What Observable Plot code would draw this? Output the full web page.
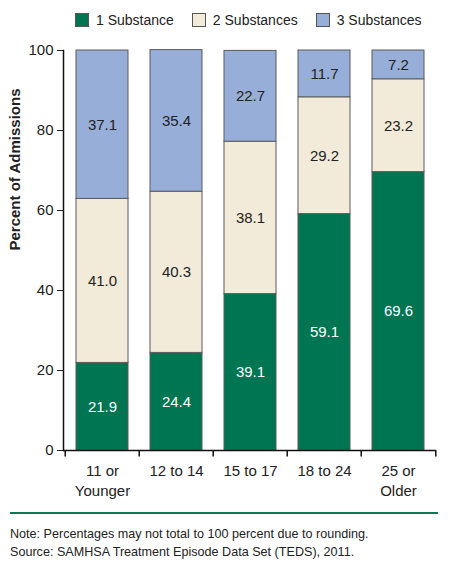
<!DOCTYPE html>
<html>
<head>
<meta charset="utf-8">
<script src="https://cdn.jsdelivr.net/npm/d3@7"></script>
<script src="https://cdn.jsdelivr.net/npm/@observablehq/plot@0.6"></script>
<style>
  body { margin: 0; background: #fff; font-family: "Liberation Sans", Arial, sans-serif; }
  #wrap { position: relative; width: 450px; height: 567px; }
  #legend { position: absolute; top: 11px; left: 75px; display: flex; white-space: nowrap; font-size: 14px; color: #222; line-height: 18px; }
  #legend .item { display: flex; align-items: center; margin-right: 18px; }
  #legend .sw { width: 12px; height: 12px; border: 1px solid #555; margin-right: 7px; }
  #chart { position: absolute; top: 40px; left: 0; }
  #rule { position: absolute; top: 512px; left: 10px; width: 428px; height: 2px; background: #0b7a55; }
  #notes { position: absolute; top: 525px; left: 10px; font-size: 12.6px; color: #222; line-height: 18px; }
</style>
</head>
<body>
<div id="wrap">
  <div id="legend"></div>
  <div id="chart"></div>
  <div id="rule"></div>
  <div id="notes">
    <div>Note: Percentages may not total to 100 percent due to rounding.</div>
    <div>Source: SAMHSA Treatment Episode Data Set (TEDS), 2011.</div>
  </div>
</div>
<script>
const ages = ["11 or\nYounger", "12 to 14", "15 to 17", "18 to 24", "25 or\nOlder"];
const seriesNames = ["1 Substance", "2 Substances", "3 Substances"];
const seriesColors = ["#007551", "#f2ebd9", "#97aed9"];
const labelColors = ["#fff", "#222", "#222"];
const oneSubstance = [21.9, 24.4, 39.1, 59.1, 69.6];
const twoSubstances = [41.0, 40.3, 38.1, 29.2, 23.2];
const threeSubstances = [37.1, 35.4, 22.7, 11.7, 7.2];
const yTicks = [0, 20, 40, 60, 80, 100];

const values = [oneSubstance, twoSubstances, threeSubstances];
const rows = [];
seriesNames.forEach((s, i) => {
  ages.forEach((a, j) => rows.push({age: a, series: s, value: values[i][j], idx: i}));
});

// legend
const legend = d3.select("#legend");
seriesNames.forEach((s, i) => {
  const it = legend.append("div").attr("class", "item");
  it.append("div").attr("class", "sw").style("background", seriesColors[i]);
  it.append("span").text(s);
});

const chart = Plot.plot({
  width: 450,
  height: 470,
  marginLeft: 63,
  marginRight: 14,
  marginTop: 10,
  marginBottom: 60,
  style: {fontFamily: "\"Liberation Sans\", Arial, sans-serif", fontSize: "15px", color: "#222"},
  x: {domain: ages, paddingInner: 0.3, paddingOuter: 0.15, label: null},
  y: {domain: [0, 100], label: null},
  color: {domain: seriesNames, range: seriesColors},
  marks: [
    Plot.barY(rows, {x: "age", y: "value", fill: "series", order: seriesNames, stroke: "#5a5a5a", strokeWidth: 1}),
    Plot.text(rows, Plot.stackY({
      x: "age", y: "value", z: "series", order: seriesNames,
      text: d => d.value.toFixed(1),
      fill: d => labelColors[d.idx],
      fontSize: 15
    })),
    Plot.axisY({ticks: yTicks, tickSize: 6, tickPadding: 4, label: null, fontSize: 15}),
    Plot.axisX({tickSize: 0, tickPadding: 12, label: null, fontSize: 15, lineHeight: 1.3}),
    Plot.text(["Percent of Admissions"], {frameAnchor: "left", rotate: -90, dx: -48, fontWeight: "bold", fontSize: 15}),
    Plot.ruleY([0], {stroke: "#111", strokeWidth: 1.5}),
    Plot.frame({anchor: "left", stroke: "#111", strokeWidth: 1.5}),
    Plot.ruleX(ages, {x: d => d, y1: 0, y2: -1.6, dx: -37.3, stroke: "#111", strokeWidth: 1.5}),
    Plot.ruleX(ages.slice(-1), {x: d => d, y1: 0, y2: -1.6, dx: 37.3, stroke: "#111", strokeWidth: 1.5})
  ]
});
d3.select("#chart").append(() => chart);
</script>
</body>
</html>
